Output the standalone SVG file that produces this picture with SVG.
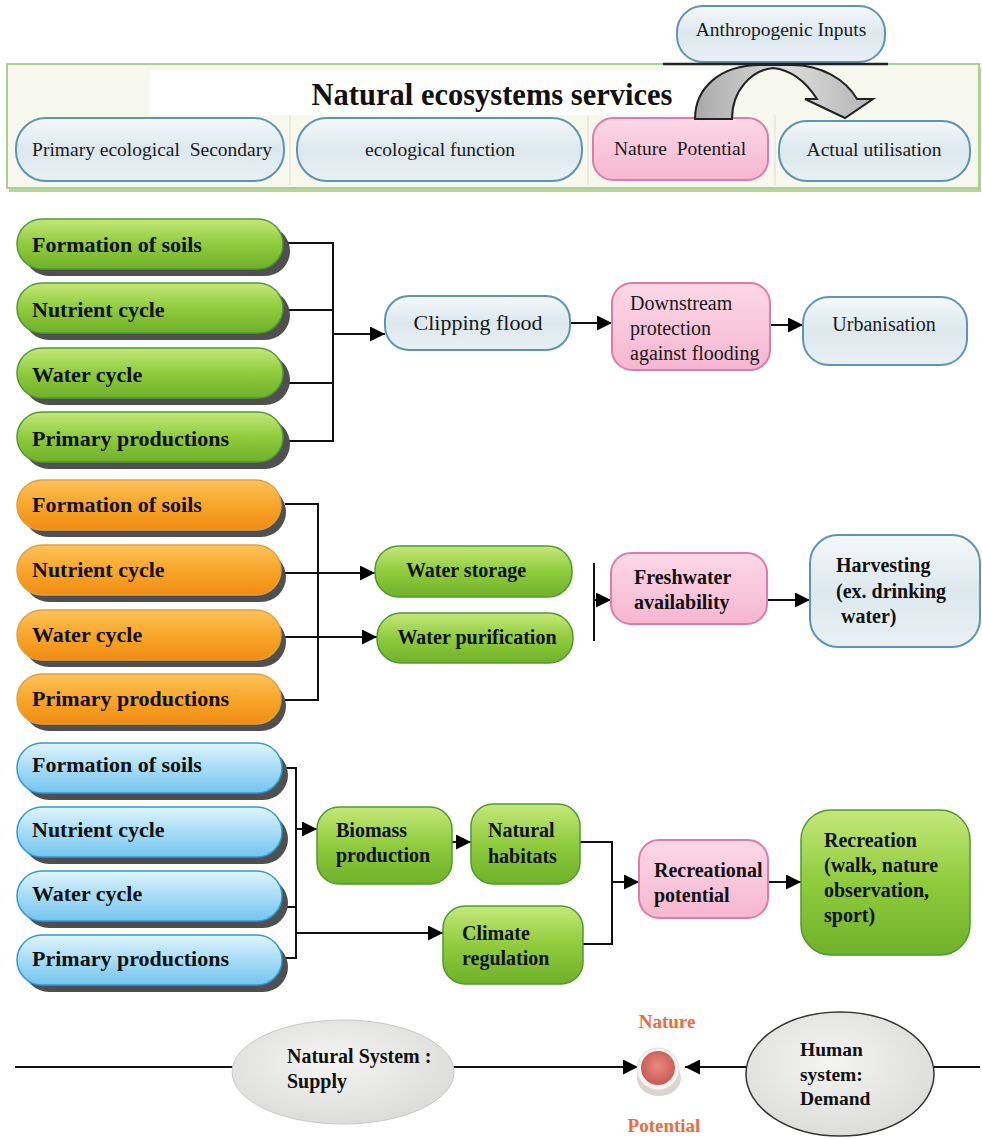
<svg xmlns="http://www.w3.org/2000/svg" width="982" height="1139" viewBox="0 0 982 1139">
<defs>
<linearGradient id="gG" x1="0" y1="0" x2="0" y2="1"><stop offset="0" stop-color="#c4e87a"/><stop offset="0.5" stop-color="#8fcb3c"/><stop offset="1" stop-color="#6fb12a"/></linearGradient>
<linearGradient id="gO" x1="0" y1="0" x2="0" y2="1"><stop offset="0" stop-color="#fcc25a"/><stop offset="0.5" stop-color="#f8a62a"/><stop offset="1" stop-color="#f08c12"/></linearGradient>
<linearGradient id="gB" x1="0" y1="0" x2="0" y2="1"><stop offset="0" stop-color="#e0f4fd"/><stop offset="0.5" stop-color="#a6dcf6"/><stop offset="1" stop-color="#74c4ee"/></linearGradient>
<linearGradient id="gS" x1="0" y1="0" x2="0" y2="1"><stop offset="0" stop-color="#f4f8fa"/><stop offset="0.5" stop-color="#dce8ee"/><stop offset="1" stop-color="#e8f0f4"/></linearGradient>
<linearGradient id="gP" x1="0" y1="0" x2="0" y2="1"><stop offset="0" stop-color="#fbd8e6"/><stop offset="1" stop-color="#f5b6d0"/></linearGradient>
<linearGradient id="gArc" x1="0" y1="0" x2="1" y2="0"><stop offset="0" stop-color="#a8a8a8"/><stop offset="0.5" stop-color="#dcdcdc"/><stop offset="1" stop-color="#b4b4b4"/></linearGradient>
<radialGradient id="gE" cx="0.45" cy="0.4" r="0.6"><stop offset="0" stop-color="#f4f4f2"/><stop offset="1" stop-color="#dcdcda"/></radialGradient>
<radialGradient id="gR" cx="0.5" cy="0.45" r="0.55"><stop offset="0" stop-color="#e88a80"/><stop offset="1" stop-color="#c85a55"/></radialGradient>
<marker id="ah" viewBox="0 0 10 10" refX="10" refY="5" markerWidth="7.5" markerHeight="7.5" markerUnits="strokeWidth" orient="auto"><path d="M0,0 L10,5 L0,10 Z" fill="#000"/></marker>
</defs>
<style>
.sh{fill:#505050}
.g{fill:url(#gG);stroke:#4f9a30;stroke-width:1.5}
.o{fill:url(#gO);stroke:#e0a040;stroke-width:1.5}
.b{fill:url(#gB);stroke:#2e9ad8;stroke-width:1.5}
.s{fill:url(#gS);stroke:#5e94b4;stroke-width:2}
.p{fill:url(#gP);stroke:#e07aa8;stroke-width:2}
.t{font-family:"Liberation Serif","Times New Roman",serif;fill:#1a1a1a}
.bt{font-family:"Liberation Serif","Times New Roman",serif;font-weight:bold;fill:#111}
.L{font-size:22px}
.M{font-size:20px}
.H{font-size:19.5px}
.np{font-family:"Liberation Serif","Times New Roman",serif;font-weight:bold;font-size:19px;fill:#f06a3a}
.c{fill:none;stroke:#111;stroke-width:2}
.ca{fill:none;stroke:#111;stroke-width:2;marker-end:url(#ah)}
</style>
<rect width="982" height="1139" fill="#fff"/>

<!-- header panel -->
<g id="header">
<rect x="9" y="68" width="972" height="124" fill="#b8d49a"/>
<rect x="7" y="64" width="972" height="124" fill="#f6f8ee" stroke="#a8d090" stroke-width="2"/>
<rect x="150" y="70" width="570" height="45" fill="#ffffff"/>
<line x1="290" y1="115" x2="290" y2="185" stroke="#e8ecd8" stroke-width="2"/>
<line x1="588" y1="115" x2="588" y2="185" stroke="#e8ecd8" stroke-width="2"/>
<line x1="775" y1="115" x2="775" y2="185" stroke="#e8ecd8" stroke-width="2"/>
<text class="bt" x="492" y="105" font-size="30.5" text-anchor="middle">Natural ecosystems services</text>
</g>
<g id="h1"><rect class="s" x="16" y="118" width="268" height="63" rx="30"/><text class="t H" x="152" y="156" text-anchor="middle" xml:space="preserve">Primary ecological  Secondary</text></g>
<g id="h2"><rect class="s" x="297" y="118" width="285" height="63" rx="30"/><text class="t H" x="440" y="156" text-anchor="middle">ecological function</text></g>
<g id="h3"><rect class="p" x="593" y="118" width="175" height="62" rx="20"/><text class="t H" x="680" y="155" text-anchor="middle" xml:space="preserve">Nature  Potential</text></g>
<g id="h4"><rect class="s" x="779" y="121" width="191" height="60" rx="28"/><text class="t H" x="874" y="156" text-anchor="middle">Actual utilisation</text></g>
<g id="anthro"><rect class="s" x="677" y="6" width="208" height="56" rx="26"/><text class="t H" x="781" y="36" text-anchor="middle">Anthropogenic Inputs</text></g>
<g id="curved-arrow">
<path d="M695,119 C695,88 720,65 760,65 L792,65 C822,65 846,80 857,99 L873,99 L845,118 L805,99 L817,99 C806,82 792,70 773,68 C752,70 732,90 732,119 Z" fill="url(#gArc)" stroke="#222" stroke-width="2"/>
<line x1="663" y1="64" x2="888" y2="64" stroke="#222" stroke-width="2.5"/>
</g>

<!-- connectors -->
<g id="connectors">
<polyline class="c" points="285,243 333,243 333,441 285,441"/>
<line class="c" x1="285" y1="310" x2="333" y2="310"/>
<line class="c" x1="285" y1="383" x2="333" y2="383"/>
<line class="ca" x1="333" y1="334" x2="385" y2="334"/>
<line class="ca" x1="570" y1="323" x2="612" y2="323"/>
<line class="ca" x1="770" y1="325" x2="803" y2="325"/>
<polyline class="c" points="285,504 318,504 318,700 285,700"/>
<line class="ca" x1="285" y1="573" x2="375" y2="573"/>
<line class="ca" x1="285" y1="637" x2="377" y2="637"/>
<line class="c" x1="594" y1="563" x2="594" y2="641"/>
<line class="ca" x1="594" y1="600" x2="611" y2="600"/>
<line class="ca" x1="767" y1="600" x2="810" y2="600"/>
<polyline class="c" points="285,768 296,768 296,958 285,958"/>
<line class="c" x1="285" y1="907" x2="296" y2="907"/>
<line class="ca" x1="296" y1="829" x2="317" y2="829"/>
<line class="ca" x1="296" y1="933" x2="443" y2="933"/>
<line class="ca" x1="452" y1="842" x2="471" y2="842"/>
<polyline class="c" points="580,842 612,842 612,944 583,944"/>
<line class="ca" x1="612" y1="882" x2="639" y2="882"/>
<line class="ca" x1="768" y1="882" x2="801" y2="882"/>
<line class="c" x1="15" y1="1067" x2="235" y2="1067"/>
<line class="ca" x1="453" y1="1067" x2="638" y2="1067"/>
<line class="ca" x1="746" y1="1067" x2="685" y2="1067"/>
<line class="c" x1="934" y1="1067" x2="980" y2="1067"/>
</g>

<!-- section 1 green -->
<g id="g1"><rect class="sh" x="24" y="226" width="266" height="50" rx="25"/><rect class="g" x="17" y="219" width="266" height="50" rx="25"/><text class="bt L" x="32" y="252">Formation of soils</text></g>
<g id="g2"><rect class="sh" x="24" y="290" width="266" height="50" rx="25"/><rect class="g" x="17" y="283" width="266" height="50" rx="25"/><text class="bt L" x="32" y="317">Nutrient cycle</text></g>
<g id="g3"><rect class="sh" x="24" y="355" width="266" height="50" rx="25"/><rect class="g" x="17" y="348" width="266" height="50" rx="25"/><text class="bt L" x="32" y="382">Water cycle</text></g>
<g id="g4"><rect class="sh" x="24" y="419" width="266" height="50" rx="25"/><rect class="g" x="17" y="412" width="266" height="50" rx="25"/><text class="bt L" x="32" y="446">Primary productions</text></g>
<g id="clip"><rect class="s" x="385" y="296" width="185" height="54" rx="24"/><text class="t L" x="478" y="330" text-anchor="middle">Clipping flood</text></g>
<g id="down"><rect class="p" x="612" y="283" width="158" height="87" rx="20"/><text class="t M"><tspan x="630" y="310">Downstream</tspan><tspan x="630" y="335">protection</tspan><tspan x="630" y="360">against flooding</tspan></text></g>
<g id="urban"><rect class="s" x="803" y="297" width="164" height="68" rx="26"/><text class="t M" x="884" y="331" text-anchor="middle">Urbanisation</text></g>

<!-- section 2 orange -->
<g id="o1"><rect class="sh" x="24" y="487" width="262" height="50" rx="25"/><rect class="o" x="17" y="480" width="264" height="50" rx="25"/><text class="bt L" x="32" y="512">Formation of soils</text></g>
<g id="o2"><rect class="sh" x="24" y="552" width="262" height="50" rx="25"/><rect class="o" x="17" y="545" width="264" height="50" rx="25"/><text class="bt L" x="32" y="577">Nutrient cycle</text></g>
<g id="o3"><rect class="sh" x="24" y="617" width="262" height="50" rx="25"/><rect class="o" x="17" y="610" width="264" height="50" rx="25"/><text class="bt L" x="32" y="642">Water cycle</text></g>
<g id="o4"><rect class="sh" x="24" y="681" width="262" height="50" rx="25"/><rect class="o" x="17" y="674" width="264" height="50" rx="25"/><text class="bt L" x="32" y="706">Primary productions</text></g>
<g id="wstore"><rect class="g" x="375" y="546" width="197" height="51" rx="24"/><text class="bt M" x="466" y="577" text-anchor="middle">Water storage</text></g>
<g id="wpur"><rect class="g" x="377" y="613" width="196" height="50" rx="24"/><text class="bt M" x="477" y="644" text-anchor="middle">Water purification</text></g>
<g id="fresh"><rect class="p" x="611" y="553" width="156" height="71" rx="20"/><text class="bt M"><tspan x="634" y="584">Freshwater</tspan><tspan x="634" y="609">availability</tspan></text></g>
<g id="harv"><rect class="s" x="810" y="535" width="170" height="112" rx="28"/><text class="bt M"><tspan x="836" y="572">Harvesting</tspan><tspan x="836" y="598">(ex. drinking</tspan><tspan x="836" y="623" xml:space="preserve"> water)</tspan></text></g>

<!-- section 3 blue -->
<g id="b1"><rect class="sh" x="24" y="750" width="264" height="50" rx="25"/><rect class="b" x="17" y="743" width="265" height="50" rx="25"/><text class="bt L" x="32" y="772">Formation of soils</text></g>
<g id="b2"><rect class="sh" x="24" y="814" width="264" height="50" rx="25"/><rect class="b" x="17" y="807" width="265" height="50" rx="25"/><text class="bt L" x="32" y="837">Nutrient cycle</text></g>
<g id="b3"><rect class="sh" x="24" y="878" width="264" height="50" rx="25"/><rect class="b" x="17" y="871" width="265" height="50" rx="25"/><text class="bt L" x="32" y="901">Water cycle</text></g>
<g id="b4"><rect class="sh" x="24" y="942" width="264" height="50" rx="25"/><rect class="b" x="17" y="935" width="265" height="50" rx="25"/><text class="bt L" x="32" y="966">Primary productions</text></g>
<g id="biomass"><rect class="g" x="317" y="807" width="135" height="77" rx="22"/><text class="bt M"><tspan x="336" y="837">Biomass</tspan><tspan x="336" y="862">production</tspan></text></g>
<g id="habitats"><rect class="g" x="471" y="804" width="109" height="80" rx="22"/><text class="bt M"><tspan x="488" y="837">Natural</tspan><tspan x="488" y="863">habitats</tspan></text></g>
<g id="climate"><rect class="g" x="443" y="906" width="140" height="78" rx="22"/><text class="bt M"><tspan x="462" y="940">Climate</tspan><tspan x="462" y="965">regulation</tspan></text></g>
<g id="recpot"><rect class="p" x="639" y="840" width="129" height="78" rx="20"/><text class="bt M"><tspan x="654" y="877">Recreational</tspan><tspan x="654" y="902">potential</tspan></text></g>
<g id="recreation"><rect class="g" x="801" y="810" width="169" height="145" rx="30"/><text class="bt M"><tspan x="824" y="847">Recreation</tspan><tspan x="824" y="872">(walk, nature</tspan><tspan x="824" y="897">observation,</tspan><tspan x="824" y="922">sport)</tspan></text></g>

<!-- bottom -->
<g id="supply"><ellipse cx="343" cy="1072" rx="111" ry="52" fill="url(#gE)" stroke="#c8c8c8" stroke-width="1"/><text class="bt M"><tspan x="287" y="1063">Natural System :</tspan><tspan x="287" y="1088">Supply</tspan></text></g>
<g id="nature-pot">
<ellipse cx="659" cy="1078" rx="22" ry="18" fill="#dcd4d0"/>
<circle cx="658" cy="1069" r="21" fill="#f6f2f0" stroke="#e4dcd8" stroke-width="1"/>
<circle cx="658" cy="1068" r="17" fill="url(#gR)"/>
<text class="np" x="667" y="1028" text-anchor="middle">Nature</text>
<text class="np" x="664" y="1132" text-anchor="middle">Potential</text>
</g>
<g id="demand"><ellipse cx="840" cy="1074" rx="94" ry="62" fill="url(#gE)" stroke="#333" stroke-width="1.5"/><text class="bt H"><tspan x="800" y="1056">Human</tspan><tspan x="800" y="1081">system:</tspan><tspan x="800" y="1105">Demand</tspan></text></g>
</svg>
